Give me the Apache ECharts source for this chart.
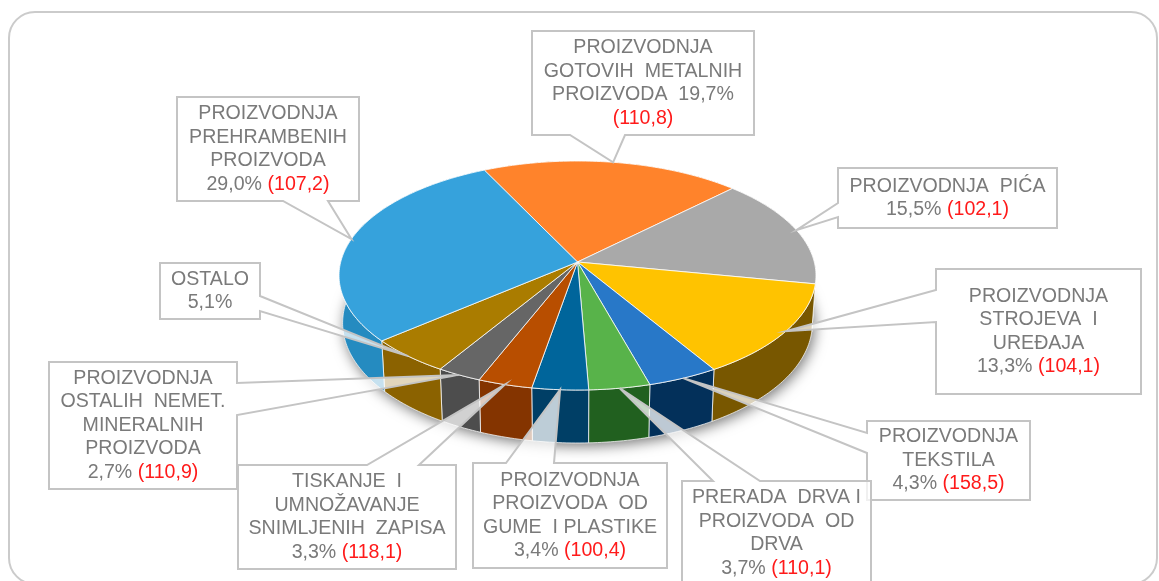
<!DOCTYPE html>
<html><head><meta charset="utf-8">
<style>html,body{margin:0;padding:0;background:#fff}#c{width:1159px;height:581px}</style>
<script src="https://cdn.jsdelivr.net/npm/echarts@6/dist/echarts.min.js"></script>
</head><body><div id="c"></div>
<script>
// ---- data (clockwise from the orange slice) ----
const categories = [
  'PROIZVODNJA\nGOTOVIH  METALNIH\nPROIZVODA',
  'PROIZVODNJA  PIĆA',
  'PROIZVODNJA\nSTROJEVA  I\nUREĐAJA',
  'PROIZVODNJA\nTEKSTILA',
  'PRERADA  DRVA I\nPROIZVODA  OD\nDRVA',
  'PROIZVODNJA\nPROIZVODA  OD\nGUME  I PLASTIKE',
  'TISKANJE  I\nUMNOŽAVANJE\nSNIMLJENIH  ZAPISA',
  'PROIZVODNJA\nOSTALIH  NEMET.\nMINERALNIH\nPROIZVODA',
  'OSTALO',
  'PROIZVODNJA\nPREHRAMBENIH\nPROIZVODA'
];
const shares  = [19.7, 15.5, 13.3, 4.3, 3.7, 3.4, 3.3, 2.7, 5.1, 29.0];
const indices = [110.8, 102.1, 104.1, 158.5, 110.1, 100.4, 118.1, 110.9, null, 107.2];

// ---- styles ----
const topColors  = ['#FF832B','#A9A9A9','#FFC300','#2878C8','#58B34A','#00659B','#B84E00','#666666','#AA7C00','#36A2DC'];
const wallColors = ['#A04E10','#6B6B6B','#785700','#03305A','#21601F','#003F66','#843400','#4D4D4D','#8B6200','#258BC0'];
const startDeg = -25.8;

// ---- callout layout: box [x0,y0,x1,y1], wedge side, wedge base a,b ----
const boxes = [
  [532,31,754,135], [838,168,1057,228], [936,269,1141,394], [867,421,1030,500], [682,481,871,585],
  [473,463,667,568], [238,465,456,569], [49,362,237,489], [160,263,260,319], [177,97,359,201]
];
const wedgeSides = ['b','l','l','l','t','t','t','r','r','b'];
const wedgeBases = [[570,625],[203,217],[290,322],[433,453],[713,760],[506,554],[367,419],[383,415],[296,311],[283,328]];
const drawOrder = [9,0,1,2,3,8,7,6,5,4];

// ---- tilted disc geometry ----
const cx = 577.5, cy = 262, A = 236.8, B = 112.9, K = 0.118;
function project(deg) {
  const t = deg * Math.PI / 180, u = Math.sin(t), v = -Math.cos(t), d = 1 - K * v;
  return [A * u / d, B * v / d];
}
const topPt = p => [cx + p[0], cy + p[1]];
const botPt = p => [cx + p[0] * 0.985, cy + p[1] * 1.048 + 46.85];
function arc(a0, a1, map) {
  const n = Math.max(2, Math.ceil(Math.abs(a1 - a0))), out = [];
  for (let i = 0; i <= n; i++) out.push(map(project(a0 + (a1 - a0) * i / n)));
  return out;
}
const deg = s => s * 3.6;
let acc = 0;
const sliceData = shares.map((s, i) => { const r = [i, startDeg + deg(acc), startDeg + deg(acc + s), s]; acc += s; return r; });

function renderWall(params, api) {
  const i = api.value(0), a0 = api.value(1), a1 = api.value(2);
  const pts = arc(a0, a1, topPt).concat(arc(a1, a0, botPt));
  return { type: 'polygon', shape: { points: pts }, style: { fill: wallColors[i], stroke: 'rgba(255,255,255,.75)', lineWidth: 1 } };
}
function renderTop(params, api) {
  const i = api.value(0), a0 = api.value(1), a1 = api.value(2);
  const pts = [[cx, cy]].concat(arc(a0, a1, topPt));
  return { type: 'polygon', shape: { points: pts }, style: { fill: topColors[i], stroke: 'rgba(255,255,255,.8)', lineWidth: 1 } };
}
function renderShadow() {
  return { type: 'polygon', shape: { points: arc(0, 360, botPt) },
    style: { fill: '#777', shadowBlur: 14, shadowColor: 'rgba(0,0,0,.55)', shadowOffsetX: 2, shadowOffsetY: 3 } };
}
const fmt = v => v.toFixed(1).replace('.', ',');
function labelText(i) {
  const lines = categories[i].split('\n').map(l => '{g|' + l + '}');
  const share = fmt(shares[i]) + '%';
  if (indices[i] === null) { lines.push('{g|' + share + '}'); return lines.join('\n'); }
  const idx = '{r|(' + fmt(indices[i]) + ')}';
  if (i === 0) { lines[lines.length - 1] = '{g|PROIZVODA  ' + share + '}'; lines.push(idx); }
  else lines.push('{g|' + share + ' }' + idx);
  return lines.join('\n');
}
function calloutPoints(i) {
  const [x0, y0, x1, y1] = boxes[i], side = wedgeSides[i], [a, b] = wedgeBases[i];
  const s = sliceData[i], tip = topPt(project((s[1] + s[2]) / 2));
  const pts = [[x0, y0]];
  if (side === 't') pts.push([a, y0], tip, [b, y0]);
  pts.push([x1, y0]);
  if (side === 'r') pts.push([x1, a], tip, [x1, b]);
  pts.push([x1, y1]);
  if (side === 'b') pts.push([b, y1], tip, [a, y1]);
  pts.push([x0, y1]);
  if (side === 'l') pts.push([x0, b], tip, [x0, a]);
  return pts;
}
const rich = {
  g: { fontFamily: 'Liberation Sans', fontSize: 19.6, lineHeight: 23.5, fill: '#7A7A7A', color: '#7A7A7A' },
  r: { fontFamily: 'Liberation Sans', fontSize: 19.6, lineHeight: 23.5, fill: '#FF1A1A', color: '#FF1A1A' }
};
function renderCallout(params, api) {
  const i = api.value(0), [x0, y0, x1, y1] = boxes[i];
  return { type: 'group', children: [
    { type: 'polygon', shape: { points: calloutPoints(i) },
      style: { fill: 'rgba(255,255,255,.74)', stroke: '#C4C4C4', lineWidth: 2, lineJoin: 'miter' } },
    { type: 'text', style: { x: (x0 + x1) / 2, y: (y0 + y1) / 2, text: labelText(i), rich,
      align: 'center', verticalAlign: 'middle', fontFamily: 'Liberation Sans', fontSize: 19.6, lineHeight: 23.5, fill: '#7A7A7A' } }
  ] };
}

const chart = echarts.init(document.getElementById('c'), null, { renderer: 'canvas' });
chart.setOption({
  animation: false,
  backgroundColor: '#fff',
  graphic: [{ type: 'rect', z: -10, silent: true, shape: { x: 9, y: 12, width: 1148, height: 572, r: 26 },
    style: { fill: '#fff', stroke: '#CBCBCB', lineWidth: 2 } }],
  series: [
    { type: 'custom', name: 'sjena', coordinateSystem: 'none', silent: true, z: 1, data: [[0]], renderItem: renderShadow },
    { type: 'custom', name: 'plašt', coordinateSystem: 'none', silent: true, z: 2, data: sliceData, renderItem: renderWall },
    { type: 'custom', name: 'udio', coordinateSystem: 'none', silent: true, z: 3, data: sliceData.map((d, i) => ({ name: categories[i].replace(/\n/g, ' '), value: d })), renderItem: renderTop },
    { type: 'custom', name: 'oznake', coordinateSystem: 'none', silent: true, z: 4, data: drawOrder.map(i => [i]), renderItem: renderCallout }
  ]
});
</script></body></html>
